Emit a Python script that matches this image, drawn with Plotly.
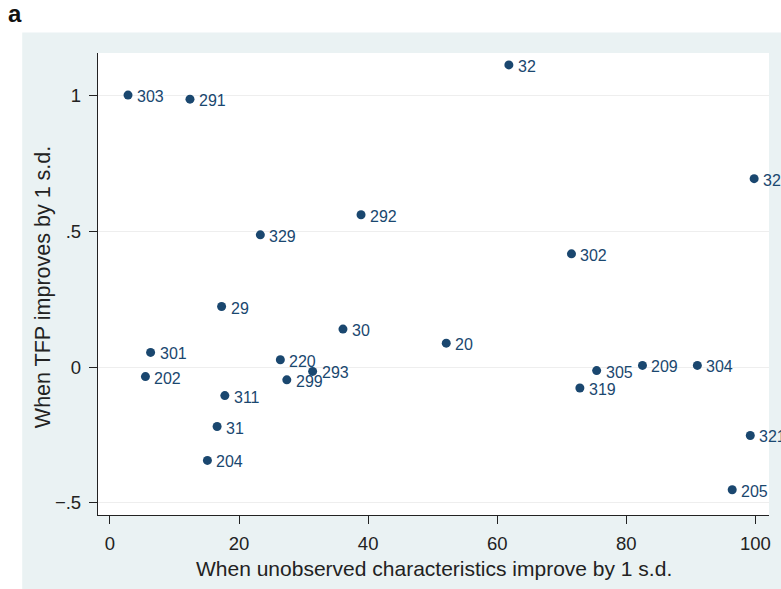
import plotly.graph_objects as go

# Data
labels = ["303", "291", "32", "325", "292", "329", "302", "29", "30", "20",
          "301", "220", "202", "293", "299", "311", "31", "204", "305", "209",
          "304", "319", "321", "205"]
x_unobs = [2.8, 12.4, 61.8, 99.8, 38.9, 23.3, 71.5, 17.3, 36.1, 52.1,
           6.3, 26.4, 5.5, 31.4, 27.4, 17.8, 16.6, 15.1, 75.4, 82.5,
           91.0, 72.8, 99.2, 96.4]
y_tfp = [1.002, 0.987, 1.113, 0.694, 0.561, 0.487, 0.417, 0.223, 0.140, 0.088,
         0.054, 0.027, -0.035, -0.016, -0.047, -0.105, -0.219, -0.344, -0.013, 0.006,
         0.006, -0.077, -0.252, -0.452]

x_ticks = [0, 20, 40, 60, 80, 100]
y_ticks = [-0.5, 0, 0.5, 1]
y_ticktext = ["\u2212.5", "0", ".5", "1"]

navy = "#1a476f"
font_family = "Liberation Sans, Arial, Helvetica, sans-serif"

W, H = 781, 589
L, R, T, B = 98, 10, 53, 74
pw, ph = W - L - R, H - T - B


def px(xp):
    return (xp - L) / pw


def py(yp):
    return (H - B - yp) / ph


fig = go.Figure()
fig.add_trace(go.Scatter(
    x=x_unobs, y=y_tfp, mode="markers",
    marker=dict(color=navy, size=9),
    cliponaxis=False, showlegend=False, hoverinfo="skip",
))

point_labels = [
    dict(text=t, x=xv, y=yv, xref="x", yref="y", xanchor="left", yanchor="middle",
         xshift=7, yshift=-1.5, showarrow=False,
         font=dict(size=16, color=navy, family=font_family))
    for t, xv, yv in zip(labels, x_unobs, y_tfp)
]

fig.update_layout(
    width=W, height=H,
    margin=dict(l=L, r=R, t=T, b=B, pad=0),
    paper_bgcolor="white",
    plot_bgcolor="rgba(0,0,0,0)",
    font=dict(family=font_family, color="#222222"),
    shapes=[
        dict(type="rect", xref="paper", yref="paper", layer="below",
             x0=px(22), x1=px(790), y0=py(600), y1=py(32.5),
             fillcolor="#eaf2f3", line=dict(width=0)),
        dict(type="rect", xref="paper", yref="paper", layer="below",
             x0=0, x1=1, y0=0, y1=1,
             fillcolor="white", line=dict(width=0)),
    ],
    annotations=point_labels + [
        dict(text="<b>a</b>", xref="paper", yref="paper", x=px(6), y=py(13),
             xanchor="left", yanchor="middle", showarrow=False,
             font=dict(size=24, color="#111111", family=font_family)),
        dict(text="When unobserved characteristics improve by 1 s.d.",
             xref="paper", yref="paper", x=px(434.5), y=py(568),
             xanchor="center", yanchor="middle", showarrow=False,
             font=dict(size=21, color="#222222", family=font_family)),
        dict(text="When TFP improves by 1 s.d.",
             xref="paper", yref="paper", x=px(43), y=py(287),
             xanchor="center", yanchor="middle", showarrow=False, textangle=-90,
             font=dict(size=21.5, color="#222222", family=font_family)),
    ],
)

fig.update_xaxes(
    range=[-1.85, 102.1], tickvals=x_ticks,
    showgrid=False, zeroline=False,
    showline=True, linecolor="#222222", linewidth=1.3,
    ticks="outside", ticklen=8, tickcolor="#222222", tickwidth=1.3,
    tickfont=dict(size=18.5, color="#222222"),
    ticklabelstandoff=4,
)
fig.update_yaxes(
    range=[-0.545, 1.157], tickvals=y_ticks, ticktext=y_ticktext,
    showgrid=True, gridcolor="#eeeeee", gridwidth=1, zeroline=False,
    showline=True, linecolor="#222222", linewidth=1.3,
    ticks="outside", ticklen=8, tickcolor="#222222", tickwidth=1.3,
    tickfont=dict(size=18.5, color="#222222"),
    ticklabelstandoff=4,
)

fig.write_html("out.html")
